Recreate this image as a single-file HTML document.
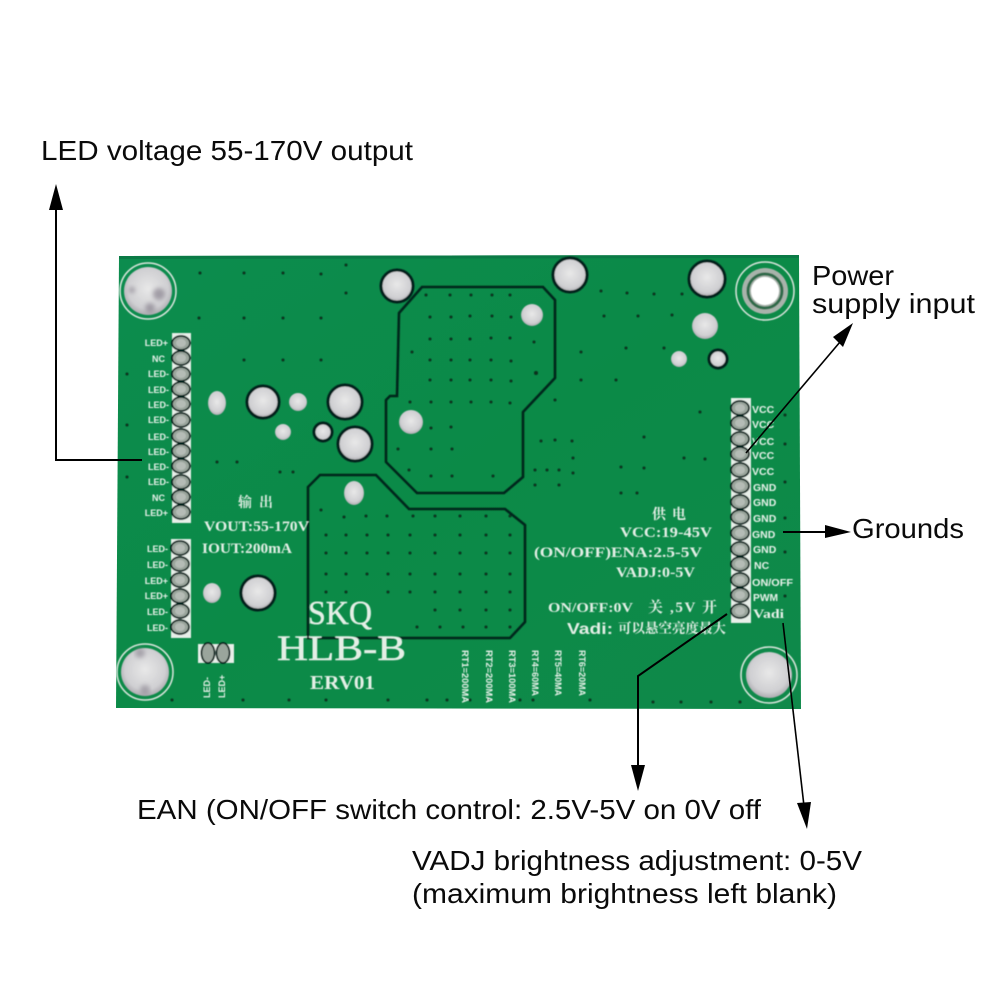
<!DOCTYPE html>
<html><head><meta charset="utf-8"><style>
html,body{margin:0;padding:0;background:#fff}
svg{display:block}
.a{font-family:"Liberation Sans",sans-serif;font-size:27.5px;fill:#0a0a0a}
.s{font-family:"Liberation Sans",sans-serif;font-size:9px;font-weight:bold;fill:#e8f2ea}
.t{font-family:"Liberation Serif","Noto Serif CJK SC",serif;font-weight:bold;fill:#e4efe6}
</style></head><body>
<svg width="1000" height="1000" viewBox="0 0 1000 1000" xmlns="http://www.w3.org/2000/svg">
<defs>
<radialGradient id="sv" cx="50%" cy="45%" r="60%"><stop offset="0" stop-color="#e8e8e8"/><stop offset=".7" stop-color="#cfcfd2"/><stop offset="1" stop-color="#a09da3"/></radialGradient>
<linearGradient id="bd" x1="0" y1="0" x2="1" y2="1"><stop offset="0" stop-color="#0c8c4e"/><stop offset=".5" stop-color="#0b8a47"/><stop offset="1" stop-color="#0f894a"/></linearGradient>
<filter id="b"><feGaussianBlur stdDeviation=".45"/></filter>
<filter id="b2"><feGaussianBlur stdDeviation="2"/></filter>
<g id="p"><ellipse rx="9" ry="7" fill="#9aa59c" stroke="#06201a" stroke-width="1.8"/><ellipse rx="5" ry="4" fill="#b5bcb6"/></g>
</defs>
<rect width="1000" height="1000" fill="#fff"/>
<polygon points="119,256 799,255 801,709 116,708" fill="url(#bd)"/>
<polygon points="119,256 799,255 799,258 119,259" fill="#0b7a46"/>
<g filter="url(#b)">
<path d="M422,287H543L555,300V378L523,412V477L504,493H417L386,462V400L390,396H397L399,313Z" fill="none" stroke="#06251a" stroke-width="2.6"/>
<path d="M308,487L320,475H376L409,509H505L525,525V622L510,638H308Z" fill="none" stroke="#06251a" stroke-width="2.6"/>
<g fill="#07301f">
<circle cx="200" cy="273" r="1.5"/><circle cx="244" cy="273" r="1.5"/><circle cx="283" cy="273" r="1.5"/><circle cx="321" cy="274" r="1.5"/><circle cx="346" cy="265" r="1.5"/><circle cx="346" cy="293" r="1.5"/>
<circle cx="199" cy="318" r="1.5"/><circle cx="244" cy="318" r="1.5"/><circle cx="283" cy="318" r="1.5"/><circle cx="321" cy="318" r="1.5"/>
<circle cx="244" cy="360" r="1.5"/><circle cx="283" cy="360" r="1.5"/><circle cx="321" cy="360" r="1.5"/><circle cx="127" cy="374" r="1.5"/><circle cx="127" cy="425" r="1.5"/><circle cx="127" cy="477" r="1.5"/>
<circle cx="217" cy="462" r="1.5"/><circle cx="237" cy="462" r="1.5"/><circle cx="280" cy="472" r="1.5"/><circle cx="293" cy="472" r="1.5"/>
<circle cx="426" cy="295" r="1.5"/><circle cx="450" cy="295" r="1.5"/><circle cx="471" cy="295" r="1.5"/><circle cx="492" cy="295" r="1.5"/><circle cx="510" cy="295" r="1.5"/>
<circle cx="430" cy="317" r="1.5"/><circle cx="451" cy="317" r="1.5"/><circle cx="470" cy="316" r="1.5"/><circle cx="492" cy="316" r="1.5"/><circle cx="511" cy="317" r="1.5"/>
<circle cx="430" cy="339" r="1.5"/><circle cx="451" cy="339" r="1.5"/><circle cx="470" cy="339" r="1.5"/><circle cx="491" cy="338" r="1.5"/><circle cx="510" cy="338" r="1.5"/><circle cx="534" cy="342" r="1.5"/><circle cx="412" cy="352" r="1.5"/>
<circle cx="430" cy="360" r="1.5"/><circle cx="451" cy="360" r="1.5"/><circle cx="470" cy="360" r="1.5"/><circle cx="491" cy="360" r="1.5"/><circle cx="511" cy="361" r="1.5"/>
<circle cx="430" cy="380" r="1.5"/><circle cx="451" cy="380" r="1.5"/><circle cx="470" cy="380" r="1.5"/><circle cx="491" cy="380" r="1.5"/><circle cx="511" cy="381" r="1.5"/><circle cx="536" cy="373" r="2"/>
<circle cx="410" cy="402" r="1.5"/><circle cx="431" cy="402" r="1.5"/><circle cx="451" cy="402" r="1.5"/><circle cx="471" cy="402" r="1.5"/><circle cx="491" cy="402" r="1.5"/><circle cx="510" cy="403" r="1.5"/><circle cx="555" cy="400" r="1.5"/>
<circle cx="431" cy="428" r="1.5"/><circle cx="451" cy="427" r="1.5"/><circle cx="398" cy="449" r="1.5"/><circle cx="431" cy="449" r="1.5"/><circle cx="452" cy="449" r="1.5"/><circle cx="409" cy="470" r="1.5"/><circle cx="431" cy="476" r="1.5"/><circle cx="452" cy="476" r="1.5"/><circle cx="493" cy="476" r="1.5"/>
<circle cx="601" cy="291" r="1.5"/><circle cx="627" cy="293" r="1.5"/><circle cx="654" cy="294" r="1.5"/><circle cx="682" cy="294" r="1.5"/><circle cx="604" cy="316" r="1.5"/><circle cx="638" cy="316" r="1.5"/><circle cx="672" cy="315" r="1.5"/>
<circle cx="581" cy="352" r="1.5"/><circle cx="626" cy="348" r="1.5"/><circle cx="664" cy="348" r="1.5"/><circle cx="581" cy="380" r="1.5"/><circle cx="616" cy="380" r="1.5"/>
<circle cx="555" cy="440" r="1.5"/><circle cx="541" cy="441" r="1.5"/><circle cx="572" cy="441" r="1.5"/><circle cx="573" cy="458" r="1.5"/><circle cx="535" cy="470" r="1.5"/><circle cx="547" cy="470" r="1.5"/><circle cx="559" cy="470" r="1.5"/><circle cx="573" cy="473" r="1.5"/><circle cx="535" cy="485" r="1.5"/><circle cx="559" cy="485" r="1.5"/>
<circle cx="621" cy="467" r="1.5"/><circle cx="644" cy="468" r="1.5"/><circle cx="700" cy="412" r="1.5"/><circle cx="644" cy="437" r="1.5"/><circle cx="684" cy="458" r="1.5"/><circle cx="705" cy="459" r="1.5"/><circle cx="621" cy="493" r="1.5"/><circle cx="637" cy="493" r="1.5"/>
<circle cx="785" cy="415" r="1.5"/><circle cx="785" cy="444" r="1.5"/><circle cx="785" cy="482" r="1.5"/><circle cx="785" cy="518" r="1.5"/><circle cx="785" cy="552" r="1.5"/><circle cx="785" cy="596" r="1.5"/>
<circle cx="321" cy="510" r="1.5"/><circle cx="344" cy="517" r="1.5"/><circle cx="366" cy="516" r="1.5"/><circle cx="387" cy="516" r="1.5"/><circle cx="413" cy="516" r="1.5"/><circle cx="435" cy="516" r="1.5"/><circle cx="460" cy="516" r="1.5"/><circle cx="486" cy="516" r="1.5"/><circle cx="510" cy="516" r="1.5"/>
<circle cx="326" cy="535" r="1.5"/><circle cx="346" cy="535" r="1.5"/><circle cx="367" cy="535" r="1.5"/><circle cx="388" cy="535" r="1.5"/><circle cx="410" cy="535" r="1.5"/><circle cx="435" cy="535" r="1.5"/><circle cx="460" cy="535" r="1.5"/><circle cx="486" cy="535" r="1.5"/><circle cx="510" cy="535" r="1.5"/>
<circle cx="326" cy="553" r="1.5"/><circle cx="346" cy="553" r="1.5"/><circle cx="367" cy="553" r="1.5"/><circle cx="388" cy="553" r="1.5"/><circle cx="410" cy="553" r="1.5"/><circle cx="435" cy="553" r="1.5"/><circle cx="460" cy="553" r="1.5"/><circle cx="486" cy="553" r="1.5"/><circle cx="510" cy="553" r="1.5"/>
<circle cx="326" cy="574" r="1.5"/><circle cx="346" cy="574" r="1.5"/><circle cx="367" cy="574" r="1.5"/><circle cx="388" cy="574" r="1.5"/><circle cx="410" cy="574" r="1.5"/><circle cx="435" cy="574" r="1.5"/><circle cx="460" cy="574" r="1.5"/><circle cx="486" cy="574" r="1.5"/><circle cx="510" cy="574" r="1.5"/>
<circle cx="326" cy="592" r="1.5"/><circle cx="346" cy="592" r="1.5"/><circle cx="388" cy="592" r="1.5"/><circle cx="410" cy="592" r="1.5"/><circle cx="435" cy="592" r="1.5"/><circle cx="460" cy="592" r="1.5"/><circle cx="486" cy="592" r="1.5"/><circle cx="510" cy="592" r="1.5"/>
<circle cx="435" cy="610" r="1.5"/><circle cx="460" cy="610" r="1.5"/><circle cx="486" cy="610" r="1.5"/><circle cx="510" cy="610" r="1.5"/><circle cx="417" cy="627" r="1.5"/><circle cx="440" cy="627" r="1.5"/><circle cx="463" cy="627" r="1.5"/><circle cx="486" cy="627" r="1.5"/><circle cx="510" cy="627" r="1.5"/>
<circle cx="172" cy="700" r="1.5"/><circle cx="243" cy="700" r="1.5"/><circle cx="289" cy="700" r="1.5"/><circle cx="326" cy="700" r="1.5"/><circle cx="388" cy="700" r="1.5"/><circle cx="427" cy="700" r="1.5"/><circle cx="447" cy="700" r="1.5"/><circle cx="470" cy="700" r="1.5"/><circle cx="488" cy="700" r="1.5"/><circle cx="520" cy="700" r="1.5"/><circle cx="533" cy="700" r="1.5"/><circle cx="590" cy="700" r="1.5"/><circle cx="653" cy="702" r="1.5"/><circle cx="681" cy="702" r="1.5"/><circle cx="711" cy="702" r="1.5"/><circle cx="740" cy="702" r="1.5"/>
</g>
<!-- mounting holes -->
<circle cx="148" cy="291" r="28" fill="none" stroke="#dbe6de" stroke-width="1.5"/><circle cx="148" cy="291" r="24" fill="url(#sv)"/>
<g filter="url(#b2)" fill="#8a8490" opacity=".7"><circle cx="159" cy="294" r="6"/><circle cx="150" cy="308" r="5"/><circle cx="132" cy="290" r="3"/></g>
<circle cx="145" cy="672" r="28" fill="none" stroke="#dbe6de" stroke-width="1.5"/><circle cx="145" cy="672" r="24" fill="url(#sv)"/>
<g filter="url(#b2)" fill="#8a8490" opacity=".6"><circle cx="140" cy="653" r="5"/><circle cx="145" cy="690" r="5"/></g>
<circle cx="769" cy="675" r="28" fill="none" stroke="#dbe6de" stroke-width="1.5"/><circle cx="769" cy="675" r="23" fill="url(#sv)"/>
<circle cx="765" cy="291" r="29" fill="none" stroke="#dbe6de" stroke-width="1.5"/><circle cx="765" cy="291" r="23" fill="#a8b3ab"/><circle cx="765" cy="291" r="17" fill="none" stroke="#2e6a4a" stroke-width="3"/><circle cx="765" cy="291" r="14" fill="#fff"/>
<!-- vias -->
<g stroke="#05201a" stroke-width="3">
<circle cx="397" cy="286" r="16" fill="url(#sv)"/><circle cx="570" cy="275" r="17" fill="url(#sv)"/><circle cx="707" cy="279" r="18" fill="url(#sv)"/>
<circle cx="263" cy="402" r="16" fill="url(#sv)"/><circle cx="345" cy="402" r="17" fill="url(#sv)"/><circle cx="355" cy="444" r="17" fill="url(#sv)"/><circle cx="323" cy="432" r="9" fill="url(#sv)"/><circle cx="718" cy="359" r="9" fill="url(#sv)"/><circle cx="258" cy="593" r="17" fill="url(#sv)"/>
</g>
<circle cx="705" cy="326" r="13" fill="url(#sv)"/><circle cx="679" cy="359" r="8" fill="url(#sv)"/><circle cx="411" cy="422" r="12" fill="url(#sv)"/><circle cx="532" cy="315" r="11" fill="url(#sv)"/>
<ellipse cx="217" cy="403" rx="9" ry="12" fill="url(#sv)"/><circle cx="298" cy="402" r="9" fill="url(#sv)"/><circle cx="283" cy="432" r="8" fill="url(#sv)"/><ellipse cx="354" cy="493" rx="10" ry="12" fill="url(#sv)"/><ellipse cx="212" cy="593" rx="9" ry="10" fill="url(#sv)"/>
<!-- strips -->
<rect x="172" y="333" width="19" height="190" fill="#e8efe9"/><rect x="171" y="539" width="20" height="99" fill="#e8efe9"/><rect x="198" y="644" width="36" height="19" fill="#e8efe9"/><rect x="731" y="398" width="20" height="225" fill="#e8efe9"/>
<use href="#p" x="181" y="343"/><use href="#p" x="181" y="358"/><use href="#p" x="181" y="374"/><use href="#p" x="181" y="389"/><use href="#p" x="181" y="404"/><use href="#p" x="181" y="420"/><use href="#p" x="181" y="436"/><use href="#p" x="181" y="451"/><use href="#p" x="181" y="466"/><use href="#p" x="181" y="482"/><use href="#p" x="181" y="497"/><use href="#p" x="181" y="512"/>
<use href="#p" x="180" y="548"/><use href="#p" x="180" y="564"/><use href="#p" x="180" y="580"/><use href="#p" x="180" y="596"/><use href="#p" x="180" y="611"/><use href="#p" x="180" y="627"/>
<ellipse cx="208" cy="653" rx="6.5" ry="10" fill="#9aa59c" stroke="#06201a" stroke-width="1.8"/><ellipse cx="223" cy="653" rx="6.5" ry="10" fill="#9aa59c" stroke="#06201a" stroke-width="1.8"/>
<use href="#p" x="740" y="408"/><use href="#p" x="740" y="423"/><use href="#p" x="740" y="439"/><use href="#p" x="740" y="454"/><use href="#p" x="740" y="470"/><use href="#p" x="740" y="486"/><use href="#p" x="740" y="502"/><use href="#p" x="740" y="517"/><use href="#p" x="740" y="533"/><use href="#p" x="740" y="549"/><use href="#p" x="740" y="564"/><use href="#p" x="740" y="580"/><use href="#p" x="740" y="595"/><use href="#p" x="740" y="611"/>
<!-- pin labels -->
<g class="s" text-anchor="end">
<text x="168" y="346">LED+</text><text x="165" y="362">NC</text><text x="169" y="377">LED-</text><text x="169" y="393">LED-</text><text x="169" y="408">LED-</text><text x="169" y="423">LED-</text><text x="169" y="440">LED-</text><text x="169" y="455">LED-</text><text x="169" y="470">LED-</text><text x="169" y="485">LED-</text><text x="165" y="501">NC</text><text x="168" y="516">LED+</text>
<text x="168" y="552">LED-</text><text x="168" y="568">LED-</text><text x="168" y="584">LED+</text><text x="168" y="599">LED+</text><text x="168" y="615">LED-</text><text x="168" y="631">LED-</text>
</g>
<g class="s" style="font-size:10.5px">
<text x="752" y="413">VCC</text><text x="752" y="428">VCC</text><text x="752" y="445">VCC</text><text x="752" y="459">VCC</text><text x="752" y="475">VCC</text><text x="753" y="491">GND</text><text x="753" y="506">GND</text><text x="753" y="522">GND</text><text x="752" y="538">GND</text><text x="753" y="553">GND</text><text x="754" y="569">NC</text><text x="752" y="586" textLength="41" lengthAdjust="spacingAndGlyphs">ON/OFF</text><text x="753" y="601" textLength="25" lengthAdjust="spacingAndGlyphs">PWM</text>
<text x="753" y="618" textLength="31" lengthAdjust="spacingAndGlyphs" style="font-family:'Liberation Serif',serif;font-size:13px">Vadi</text>
</g>
<text class="s" transform="translate(210,698) rotate(-90)">LED-</text><text class="s" transform="translate(225,698) rotate(-90)">LED+</text>
<g class="s" style="font-size:9px">
<text transform="translate(462,650) rotate(90)" textLength="53" lengthAdjust="spacingAndGlyphs">RT1=200MA</text><text transform="translate(486,650) rotate(90)" textLength="53" lengthAdjust="spacingAndGlyphs">RT2=200MA</text><text transform="translate(509,650) rotate(90)" textLength="53" lengthAdjust="spacingAndGlyphs">RT3=100MA</text><text transform="translate(532,650) rotate(90)" textLength="46" lengthAdjust="spacingAndGlyphs">RT4=60MA</text><text transform="translate(555,650) rotate(90)" textLength="46" lengthAdjust="spacingAndGlyphs">RT5=40MA</text><text transform="translate(579,650) rotate(90)" textLength="46" lengthAdjust="spacingAndGlyphs">RT6=20MA</text>
</g>
<!-- silkscreen -->
<text class="t" x="238" y="507" font-size="14" textLength="35">输出</text>
<text class="t" x="204" y="531" font-size="15" textLength="105" lengthAdjust="spacingAndGlyphs">VOUT:55-170V</text>
<text class="t" x="202" y="553" font-size="15" textLength="90" lengthAdjust="spacingAndGlyphs">IOUT:200mA</text>
<text class="t" x="308" y="624" font-size="34" style="font-weight:normal;stroke:#e4efe6;stroke-width:.5" textLength="64" lengthAdjust="spacingAndGlyphs">SKQ</text>
<text class="t" x="277" y="660" font-size="36" style="font-weight:normal;stroke:#e4efe6;stroke-width:.5" textLength="129" lengthAdjust="spacingAndGlyphs">HLB-B</text>
<text class="t" x="310" y="689" font-size="20" textLength="65" lengthAdjust="spacingAndGlyphs">ERV01</text>
<text class="t" x="652" y="519" font-size="14" textLength="34">供电</text>
<text class="t" x="620" y="537" font-size="15" textLength="92" lengthAdjust="spacingAndGlyphs">VCC:19-45V</text>
<text class="t" x="534" y="557" font-size="15" textLength="168" lengthAdjust="spacingAndGlyphs">(ON/OFF)ENA:2.5-5V</text>
<text class="t" x="616" y="577" font-size="15" textLength="79" lengthAdjust="spacingAndGlyphs">VADJ:0-5V</text>
<text class="t" x="548" y="612" font-size="14" textLength="85" lengthAdjust="spacingAndGlyphs">ON/OFF:0V</text>
<text class="t" x="648" y="612" font-size="15" textLength="69">关 ,5V 开</text>
<text class="t" x="567" y="634" font-size="16" textLength="46" lengthAdjust="spacingAndGlyphs" style="font-family:'Liberation Sans',sans-serif">Vadi:</text>
<text class="t" x="618" y="633" font-size="13.5">可以悬空亮度最大</text>
</g>
<!-- annotations -->
<g stroke="#000" fill="none" stroke-width="2">
<path d="M56,208V460H142"/><path d="M746,453L840,342" stroke-width="1.6"/><path d="M783,532H830"/><path d="M727,614L638,676V768"/><path d="M783,623L804,806" stroke-width="1.6"/>
</g>
<g fill="#000">
<polygon points="56,184 49,210 63,210"/><polygon points="853,323 833,337 843,347"/><polygon points="851,532 825,525 825,538"/><polygon points="638,791 631,765 645,765"/><polygon points="807,829 797,803 811,802"/>
</g>
<text class="a" x="41" y="160" textLength="372" lengthAdjust="spacingAndGlyphs">LED voltage 55-170V output</text>
<text class="a" x="812" y="285" textLength="82" lengthAdjust="spacingAndGlyphs">Power</text>
<text class="a" x="812" y="313" textLength="163" lengthAdjust="spacingAndGlyphs">supply input</text>
<text class="a" x="852" y="538" textLength="112" lengthAdjust="spacingAndGlyphs">Grounds</text>
<text class="a" x="137" y="819" textLength="624" lengthAdjust="spacingAndGlyphs">EAN (ON/OFF switch control: 2.5V-5V on 0V off</text>
<text class="a" x="412" y="870" textLength="450" lengthAdjust="spacingAndGlyphs">VADJ brightness adjustment: 0-5V</text>
<text class="a" x="412" y="903" textLength="425" lengthAdjust="spacingAndGlyphs">(maximum brightness left blank)</text>
</svg>
</body></html>
